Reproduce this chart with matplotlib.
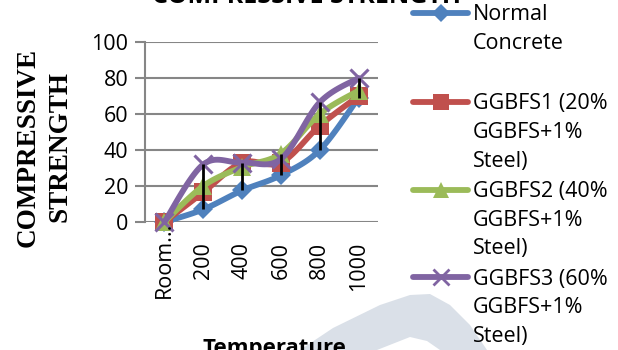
import numpy as np
import matplotlib
matplotlib.use("Agg")
import matplotlib.pyplot as plt
from matplotlib.lines import Line2D
from matplotlib.patches import Polygon
from matplotlib.transforms import offset_copy

# data
temperatures = ["Room...", "200", "400", "600", "800", "1000"]
normal = [0, 7, 17.5, 26, 40, 69]
ggbfs1 = [0, 16.5, 33, 33, 53.5, 70]
ggbfs2 = [0, 20, 30.5, 38, 60, 73]
ggbfs3 = [0, 32, 33, 35, 66.5, 80]

series_labels = [["Normal", "Concrete"],
                 ["GGBFS1 (20%", "GGBFS+1%", "Steel)"],
                 ["GGBFS2 (40%", "GGBFS+1%", "Steel)"],
                 ["GGBFS3 (60%", "GGBFS+1%", "Steel)"]]
colors = ["#4F81BD", "#C0504D", "#9BBB59", "#8064A2"]
markers = ["D", "s", "^", "x"]
msizes = [10, 13, 13, 13]

FONT = "Open Sans"
FS = 15.5


def smooth(x, y, n=20):
    """Bezier curve through the points, like Excel's smoothed line."""
    x = np.asarray(x, float)
    y = np.asarray(y, float)
    px = np.concatenate([[x[0]], x, [x[-1]]])
    py = np.concatenate([[y[0]], y, [y[-1]]])
    xs, ys = [], []
    t = np.linspace(0, 1, n)
    for i in range(1, len(px) - 2):
        for p, out in ((px, xs), (py, ys)):
            p0, p1, p2, p3 = p[i - 1], p[i], p[i + 1], p[i + 2]
            c1 = p1 + (p2 - p0) / 6
            c2 = p2 - (p3 - p1) / 6
            out.extend((1 - t) ** 3 * p1 + 3 * (1 - t) ** 2 * t * c1
                       + 3 * (1 - t) * t ** 2 * c2 + t ** 3 * p2)
    return xs, ys


fig = plt.figure(figsize=(6.18, 3.5), dpi=100)
W, H = 618, 350

# faint watermark band in the lower right (page background)
band = [(300, 350), (333, 328), (380, 305), (410, 295), (430, 294), (450, 305),
        (470, 325), (487, 350), (440, 350), (427, 341), (410, 337), (377, 350)]
fig.add_artist(Polygon([(x / W, 1 - y / H) for x, y in band], closed=True,
                       color="#DAE0E8", lw=0, transform=fig.transFigure, zorder=-1))

ax = fig.add_axes([145 / W, 1 - 222 / H, 233 / W, 180 / H])
ax.patch.set_alpha(0)

xpos = np.arange(len(temperatures))
all_series = [normal, ggbfs1, ggbfs2, ggbfs3]
for vals, c, m, ms in zip(all_series, colors, markers, msizes):
    sx, sy = smooth(xpos, vals)
    ax.plot(sx, sy, color=c, lw=4.2, solid_capstyle="round", zorder=3, clip_on=False)
    ax.plot(xpos, vals, ls="none", marker=m, ms=ms, color=c,
            mew=2.2 if m == "x" else 0, zorder=3, clip_on=False)

# high-low lines
stack = np.array(all_series)
ax.vlines(xpos, stack.min(axis=0), stack.max(axis=0), color="black", lw=2, zorder=4)

ax.set_xlim(-0.5, len(temperatures) - 0.5)
ax.set_ylim(0, 100)
ax.set_yticks(range(0, 101, 20))
ax.set_xticks(xpos)
ax.set_xticklabels([])
ax.grid(axis="y", color="#868686", lw=1.5)
ax.set_axisbelow(True)
for s in ["top", "right", "bottom"]:
    ax.spines[s].set_visible(False)
ax.spines["left"].set_color("#868686")
ax.spines["left"].set_linewidth(1.5)
ax.tick_params(axis="y", length=7.5, width=1.5, color="#868686", pad=4.5,
               labelsize=FS, labelfontfamily=FONT)
ax.tick_params(axis="x", length=0)

# category labels: "Room..." overflows upward like in Excel
xtrans = ax.get_xaxis_transform()
for i, lab in enumerate(temperatures):
    shift = 0 if lab.endswith("...") else -20
    tr = offset_copy(xtrans, fig=fig, x=0, y=shift, units="dots")
    ax.text(xpos[i], 0, lab, transform=tr, rotation=90, ha="center", va="top",
            fontsize=FS, family=FONT, zorder=6, clip_on=False)

# titles (cut off by the image edges in the reference)
fig.text(306 / W, 1 - 3 / H, "COMPRESSIVE STRENGTH", ha="center", va="baseline",
         fontsize=18, fontweight="bold", family=FONT)
fig.text(274 / W, 1 - 338 / H, "Temperature", ha="center", va="top",
         fontsize=16, fontweight="bold", family=FONT)
for txt, xb in (("COMPRESSIVE", 35), ("STRENGTH", 67)):
    fig.text(xb / W, 1 - 147 / H, txt, rotation=90, rotation_mode="anchor",
             ha="center", va="baseline", fontsize=19.5, fontweight="bold",
             family="Liberation Serif")

# legend drawn by hand so the marker sits on the first text line
entry_y = [12.5, 102, 189.5, 277]
line_step = 28.7
for lines, c, m, ms, yc in zip(series_labels, colors, markers, msizes, entry_y):
    yf = 1 - yc / H
    fig.add_artist(Line2D([413 / W, 468 / W], [yf, yf], color=c, lw=4.2,
                          solid_capstyle="round", transform=fig.transFigure))
    fig.add_artist(Line2D([441 / W], [yf], color=c, marker=m, ms=ms - 1,
                          mew=2 if m == "x" else 0, transform=fig.transFigure))
    for k, txt in enumerate(lines):
        fig.text(473 / W, 1 - (yc + 7.5 + k * line_step) / H, txt, ha="left",
                 va="baseline", fontsize=FS, family=FONT)

fig.savefig("out.png", dpi=100)
